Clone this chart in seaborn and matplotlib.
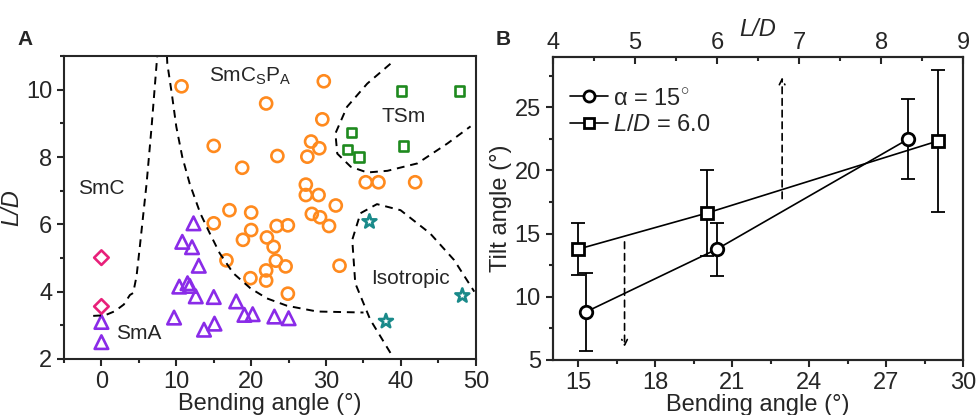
import numpy as np
import pandas as pd
import matplotlib
matplotlib.use("Agg")
import matplotlib.pyplot as plt
from matplotlib.ticker import MultipleLocator
from matplotlib.lines import Line2D
import seaborn as sns

sns.set_style("ticks")
plt.rcParams["font.family"] = ["Liberation Sans", "DejaVu Sans"]
plt.rcParams["mathtext.fontset"] = "custom"
plt.rcParams["mathtext.rm"] = "Liberation Sans"
plt.rcParams["mathtext.it"] = "Liberation Sans:italic"

# ---------------- Panel A data ----------------
smcspa_x = [10.7, 22.0, 29.7, 29.5, 15.0, 23.5, 18.8, 28.0, 29.1, 27.5, 35.3, 37.0, 41.9,
            27.3, 27.3, 29.0, 31.3, 28.1, 29.2, 30.4, 17.1, 20.0, 15.0, 23.4, 24.9, 20.0,
            18.9, 22.1, 23.0, 16.7, 23.3, 24.6, 31.8, 22.0, 22.0, 19.9, 24.9]
smcspa_y = [10.1, 9.59, 10.25, 9.12, 8.33, 8.03, 7.68, 8.46, 8.26, 8.01, 7.25, 7.25, 7.25,
            7.18, 6.87, 6.87, 6.56, 6.31, 6.21, 5.95, 6.42, 6.35, 6.03, 5.95, 5.97, 5.83,
            5.54, 5.61, 5.33, 4.93, 4.92, 4.75, 4.77, 4.63, 4.33, 4.40, 3.94]
sma_x = [12.3, 10.8, 12.1, 13.0, 10.4, 11.5, 11.8, 12.6, 15.0, 18.0, 9.7, 13.7, 15.1,
         19.1, 20.2, 23.1, 25.0, 0.0, 0.0]
sma_y = [6.03, 5.48, 5.32, 4.77, 4.15, 4.25, 4.17, 3.86, 3.84, 3.71, 3.23, 2.87, 3.05,
         3.31, 3.33, 3.26, 3.21, 3.10, 2.50]
smc_x = [0.0, 0.0]
smc_y = [5.01, 3.56]
tsm_x = [40.1, 47.8, 33.4, 40.3, 32.9, 34.4]
tsm_y = [9.96, 9.96, 8.73, 8.33, 8.23, 8.00]
iso_x = [35.8, 38.0, 48.2]
iso_y = [6.08, 3.12, 3.88]

# phase boundaries
b1_x = [-1.1, 0.5, 1.8, 3.0, 3.8, 4.24, 4.69, 5.13, 6.03, 6.7, 7.37, 7.45]
b1_y = [3.28, 3.30, 3.42, 3.62, 3.90, 3.96, 4.46, 5.34, 7.21, 8.9, 10.77, 11.0]
b2_x = [8.75, 8.8, 9.4, 10.0, 10.8, 11.8, 13.2, 14.5, 15.8, 17.6, 19.9, 22.1, 24.8, 28.8, 35.0]
b2_y = [11.0, 10.77, 9.88, 8.9, 8.0, 7.2, 6.33, 5.72, 5.14, 4.55, 4.10, 3.80, 3.58, 3.41, 3.38]
b3_x = [38.6, 35.5, 32.8, 31.25, 31.5, 33.3, 35.5, 38.2, 42.2, 46.2, 49.3]
b3_y = [10.77, 10.18, 9.49, 8.70, 8.10, 7.71, 7.54, 7.59, 7.81, 8.40, 8.91]
b4_x = [38.6, 35.9, 33.9, 33.5, 34.6, 36.8, 39.95, 43.9, 47.1, 49.8]
b4_y = [2.18, 3.17, 4.25, 5.54, 6.33, 6.60, 6.42, 5.73, 4.94, 4.00]

# ---------------- Panel B data ----------------
alpha15_ld = [4.40, 6.00, 8.33]
alpha15_tilt = [8.78, 13.77, 22.49]
alpha15_err = [3.1, 2.1, 3.2]
ld6_bend = [15.0, 20.0, 29.0]
ld6_tilt = [13.77, 16.62, 22.33]
ld6_err = [2.05, 3.4, 5.65]

FS = 17
RFS = 15
fig = plt.figure(figsize=(9.77, 4.15), dpi=100)

# ================= Panel A =================
axA = fig.add_axes([0.0655, 0.135, 0.4215, 0.730])
mk = dict(facecolors="none", linewidth=1.9, legend=False)
sns.scatterplot(x=smcspa_x, y=smcspa_y, marker="o", s=75, edgecolor="#FF8A1E", ax=axA, **mk)
sns.scatterplot(x=sma_x, y=sma_y, marker="^", s=95, edgecolor="#8A2BE8", ax=axA, **mk)
sns.scatterplot(x=smc_x, y=smc_y, marker="D", s=55, edgecolor="#E8207A", ax=axA, **mk)
sns.scatterplot(x=tsm_x, y=tsm_y, marker="s", s=45, edgecolor="#1E8A1E", ax=axA, **mk)
sns.scatterplot(x=iso_x, y=iso_y, marker="*", s=110, edgecolor="#1A8A8A", ax=axA, **mk)

for bx, by in [(b1_x, b1_y), (b2_x, b2_y), (b3_x, b3_y), (b4_x, b4_y)]:
    sns.lineplot(x=bx, y=by, sort=False, estimator=None, color="black",
                 linestyle=(0, (4, 3)), linewidth=1.4, ax=axA)

axA.set_xlim(-5, 50)
axA.set_ylim(2, 11)
axA.xaxis.set_major_locator(MultipleLocator(10))
axA.xaxis.set_minor_locator(MultipleLocator(5))
axA.yaxis.set_major_locator(MultipleLocator(2))
axA.yaxis.set_minor_locator(MultipleLocator(1))
axA.tick_params(which="both", direction="out", width=1.5, labelsize=FS, top=False, right=False)
axA.tick_params(which="major", length=5)
axA.tick_params(which="minor", length=3)
axA.set_xlabel("Bending angle (°)", fontsize=FS, labelpad=0)
axA.set_ylabel("L/D", fontsize=FS, fontstyle="italic", labelpad=2)
for s in axA.spines.values():
    s.set_linewidth(1.5)

axA.text(0, 7.05, "SmC", fontsize=RFS, ha="center", va="center")
axA.text(5.0, 2.77, "SmA", fontsize=RFS, ha="center", va="center")
axA.text(19.9, 10.4, r"SmC$_\mathrm{S}$P$_\mathrm{A}$", fontsize=RFS, ha="center", va="center")
axA.text(40.4, 9.2, "TSm", fontsize=RFS, ha="center", va="center")
axA.text(41.3, 4.4, "Isotropic", fontsize=RFS, ha="center", va="center")
fig.text(0.018, 0.905, "A", fontsize=15, fontweight="bold", va="center")

# ================= Panel B =================
axB = fig.add_axes([0.5657, 0.133, 0.4203, 0.730])
axB.set_xlim(14, 30)
axB.set_ylim(5, 29)
axT = axB.twiny()
axT.set_xlim(4, 9)

axB.errorbar(ld6_bend, ld6_tilt, yerr=ld6_err, fmt="none", ecolor="black",
             elinewidth=1.3, capsize=5, capthick=1.3, zorder=2)
sns.lineplot(x=ld6_bend, y=ld6_tilt, color="black", linewidth=1.2, marker="s",
             markersize=8, markerfacecolor="white", markeredgecolor="black",
             markeredgewidth=2, ax=axB, zorder=3)
axT.errorbar(alpha15_ld, alpha15_tilt, yerr=alpha15_err, fmt="none", ecolor="black",
             elinewidth=1.3, capsize=5, capthick=1.3, zorder=2)
sns.lineplot(x=alpha15_ld, y=alpha15_tilt, color="black", linewidth=1.2, marker="o",
             markersize=9, markerfacecolor="white", markeredgecolor="black",
             markeredgewidth=2, ax=axT, zorder=3)
axT.set_ylim(5, 29)

axB.annotate("", xy=(16.8, 5.8), xytext=(16.8, 14.56),
             arrowprops=dict(arrowstyle="->", linestyle=(0, (4, 3)), color="black", lw=1.2))
axB.annotate("", xy=(22.94, 27.6), xytext=(22.94, 17.55),
             arrowprops=dict(arrowstyle="->", linestyle=(0, (4, 3)), color="black", lw=1.2))

axB.xaxis.set_major_locator(MultipleLocator(3))
axB.xaxis.set_minor_locator(MultipleLocator(1.5))
axB.yaxis.set_major_locator(MultipleLocator(5))
axB.yaxis.set_minor_locator(MultipleLocator(2.5))
axB.tick_params(which="both", direction="out", width=1.5, labelsize=FS, right=False)
axB.tick_params(which="major", length=5)
axB.tick_params(which="minor", length=3)
axT.xaxis.set_major_locator(MultipleLocator(1))
axT.xaxis.set_minor_locator(MultipleLocator(0.5))
axT.tick_params(which="both", direction="in", width=1.5, labelsize=FS, pad=2)
axT.tick_params(which="major", length=5)
axT.tick_params(which="minor", length=3)
axB.set_xlabel("Bending angle (°)", fontsize=FS, labelpad=0)
axB.set_ylabel("Tilt angle (°)", fontsize=FS, labelpad=2)
axT.set_xlabel("L/D", fontsize=FS, fontstyle="italic", labelpad=-3)
for ax in (axB, axT):
    for s in ax.spines.values():
        s.set_linewidth(1.5)

handles = [
    Line2D([], [], color="black", lw=1.2, marker="o", markersize=8,
           markerfacecolor="white", markeredgewidth=2),
    Line2D([], [], color="black", lw=1.2, marker="s", markersize=7,
           markerfacecolor="white", markeredgewidth=2),
]
axT.legend(handles, [r"α = 15$^{\circ}$", r"$L/D$ = 6.0"], loc="upper left",
           frameon=False, fontsize=FS, handlelength=1.6, handletextpad=0.2,
           labelspacing=0.2, bbox_to_anchor=(0.02, 0.93), borderaxespad=0)
fig.text(0.507, 0.905, "B", fontsize=15, fontweight="bold", va="center")

fig.savefig("out.png", dpi=100)
